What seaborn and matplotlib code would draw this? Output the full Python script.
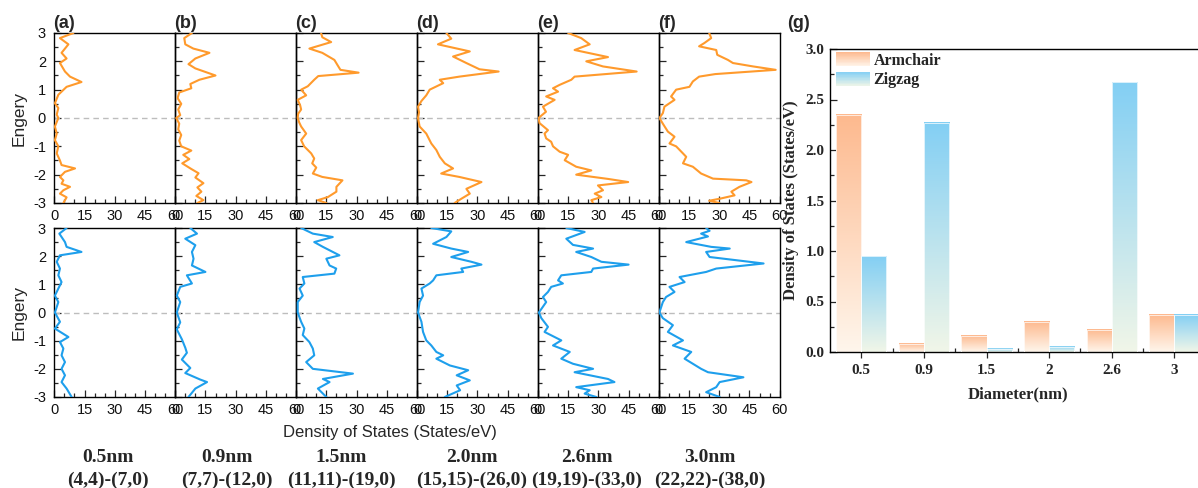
import numpy as np
import pandas as pd
import matplotlib
matplotlib.use("Agg")
import matplotlib.pyplot as plt
import seaborn as sns
from matplotlib.colors import LinearSegmentedColormap, to_rgb
from matplotlib.legend_handler import HandlerBase
from matplotlib.patches import Patch, Rectangle
from matplotlib.ticker import FixedLocator, MultipleLocator

# ---- DOS curves, armchair tubes (top row) ----
arm_05_E = [3.0, 2.82, 2.6, 2.3, 2.1, 1.94, 1.64, 1.46, 1.27, 1.1, 0.82, 0.52, 0.35, 0.12, 0.0, -0.3,
            -0.55, -0.78, -1.0, -1.25, -1.5, -1.66, -1.78, -1.9, -2.08, -2.2, -2.32, -2.43, -2.55, -2.67, -2.8, -3.0]
arm_05_dos = [9.5, 2.8, 7.0, 3.6, 6.1, 2.8, 5.3, 7.8, 13.5, 6.1, 2.0, 0.3, 2.0, 1.2, 2.0, 0.3,
              1.2, 0.3, 2.0, 1.2, 2.8, 3.6, 10.3, 5.3, 2.8, 4.5, 3.6, 7.8, 4.5, 2.8, 6.1, 4.5]

arm_09_E = [3.0, 2.82, 2.6, 2.45, 2.3, 2.1, 1.9, 1.75, 1.5, 1.35, 1.2, 1.05, 0.9, 0.7, 0.5, 0.3, 0.1, 0.0,
            -0.2, -0.4, -0.6, -0.8, -1.0, -1.15, -1.3, -1.45, -1.6, -1.8, -1.95, -2.1, -2.3, -2.45, -2.6, -2.75, -2.9, -3.0]
arm_09_dos = [8.3, 4.5, 5.0, 9.0, 17.0, 10.0, 6.6, 10.0, 20.0, 12.0, 7.5, 8.0, 2.0, 1.2, 3.0, 1.5, 2.5, 0.5,
              2.0, 1.5, 3.0, 2.0, 3.0, 8.0, 4.0, 7.0, 3.5, 8.0, 11.6, 10.0, 14.0, 11.0, 13.0, 10.5, 14.0, 11.0]

arm_15_E = [3.0, 2.85, 2.68, 2.45, 2.3, 2.05, 1.85, 1.7, 1.6, 1.48, 1.35, 1.12, 1.0, 0.8, 0.64, 0.45, 0.3, 0.15,
            0.0, -0.15, -0.3, -0.55, -0.78, -1.0, -1.25, -1.43, -1.6, -1.75, -1.96, -2.08, -2.2, -2.43, -2.6, -2.79, -2.9, -3.0]
arm_15_dos = [12.4, 13.0, 17.4, 6.6, 13.0, 19.0, 20.7, 22.0, 31.0, 11.0, 9.0, 5.8, 2.5, 5.0, 0.8, 2.0, 2.5, 1.0,
              0.8, 1.5, 2.5, 5.0, 2.5, 4.0, 7.5, 9.0, 8.0, 10.0, 8.3, 13.0, 23.0, 20.0, 20.0, 15.8, 10.8, 15.0]

arm_20_E = [3.0, 2.8, 2.6, 2.35, 2.17, 1.94, 1.72, 1.64, 1.46, 1.35, 1.23, 1.0, 0.8, 0.6, 0.4, 0.2, 0.0,
            -0.3, -0.55, -0.9, -1.13, -1.37, -1.6, -1.78, -1.96, -2.08, -2.26, -2.5, -2.67, -2.85, -3.0]
arm_20_dos = [14.6, 17.0, 10.4, 26.2, 17.9, 24.5, 31.0, 40.5, 21.0, 11.3, 13.0, 6.3, 4.6, 2.2, 0.5, 1.0, 0.5,
              1.3, 4.6, 7.1, 9.6, 11.3, 13.8, 17.9, 12.0, 21.0, 32.0, 24.5, 26.2, 22.0, 18.7]

arm_26_E = [3.0, 2.82, 2.6, 2.4, 2.15, 2.0, 1.82, 1.64, 1.46, 1.35, 1.17, 1.05, 0.93, 0.76, 0.64, 0.4, 0.22, 0.0, -0.18,
            -0.43, -0.55, -0.72, -0.84, -1.0, -1.19, -1.3, -1.49, -1.72, -1.85, -2.0, -2.15, -2.26, -2.38, -2.55, -2.67,
            -2.79, -2.9, -3.0]
arm_26_dos = [15.0, 21.5, 25.7, 18.2, 34.8, 24.0, 32.3, 49.0, 18.2, 16.6, 10.8, 7.5, 10.0, 4.1, 8.3, 2.5, 4.0, 0.3, 0.8,
              5.0, 3.3, 4.1, 6.6, 7.5, 10.8, 15.0, 13.3, 19.0, 26.5, 19.0, 34.8, 44.8, 29.8, 32.3, 28.2,
              31.5, 26.5, 27.4]

arm_30_E = [3.0, 2.82, 2.65, 2.53, 2.4, 2.23, 2.05, 1.94, 1.82, 1.7, 1.55, 1.46, 1.29, 1.1, 1.0, 0.76, 0.64, 0.4, 0.17,
            0.0, -0.2, -0.48, -0.66, -0.9, -1.0, -1.25, -1.37, -1.6, -1.72, -1.96, -2.14, -2.2, -2.26, -2.43, -2.6,
            -2.73, -2.85, -2.92, -3.0]
arm_30_dos = [25.0, 26.0, 22.7, 20.0, 28.5, 29.0, 34.3, 36.8, 46.8, 58.0, 28.0, 20.0, 16.9, 15.2, 8.6, 6.1, 7.8, 2.8, 2.0,
              0.3, 2.0, 4.5, 7.8, 5.3, 8.6, 12.0, 13.6, 12.0, 16.9, 21.0, 26.9, 43.4, 46.0, 40.0, 36.0,
              37.6, 30.2, 25.0, 30.0]

# ---- DOS curves, zigzag tubes (bottom row) ----
zig_05_E = [3.0, 2.8, 2.5, 2.33, 2.15, 2.03, 1.8, 1.56, 1.32, 1.08, 0.85, 0.6, 0.37, 0.15, 0.0, -0.33, -0.57,
            -0.87, -1.05, -1.28, -1.52, -1.76, -2.0, -2.23, -2.47, -2.7, -3.0]
zig_05_dos = [6.1, 2.5, 5.3, 6.1, 13.5, 2.8, 1.2, 2.8, 2.0, 3.6, 2.0, 0.3, 2.0, 1.0, 0.3, 2.8, 0.3,
              7.0, 2.8, 4.5, 3.6, 5.3, 3.6, 5.3, 3.6, 6.1, 8.6]

zig_09_E = [3.0, 2.8, 2.62, 2.39, 2.15, 1.91, 1.67, 1.44, 1.32, 1.03, 0.91, 0.6, 0.37, 0.0, -0.35, -0.6, -0.95,
            -1.25, -1.43, -1.67, -1.97, -2.15, -2.38, -2.47, -2.7, -3.0]
zig_09_dos = [7.5, 10.8, 5.0, 10.0, 8.3, 9.1, 8.3, 15.0, 5.8, 8.3, 2.5, 0.8, 2.5, 0.8, 2.5, 0.8, 3.3,
              5.0, 5.8, 3.3, 7.5, 5.0, 12.4, 15.8, 10.0, 6.6]

zig_15_E = [3.0, 2.8, 2.68, 2.5, 2.33, 2.03, 1.91, 1.67, 1.56, 1.38, 1.26, 1.03, 0.85, 0.6, 0.37, 0.0, -0.33,
            -0.57, -0.8, -1.05, -1.28, -1.52, -1.76, -2.0, -2.17, -2.36, -2.47, -2.7, -3.0]
zig_15_dos = [2.5, 8.3, 18.2, 9.0, 13.3, 21.5, 15.0, 16.6, 19.9, 19.0, 3.3, 4.1, 1.7, 3.3, 0.8, 0.8, 2.5,
              4.1, 3.3, 6.6, 8.3, 9.0, 5.0, 8.3, 28.2, 13.3, 16.6, 10.8, 15.0]

zig_20_E = [3.0, 2.88, 2.68, 2.44, 2.27, 2.15, 1.97, 1.8, 1.7, 1.56, 1.44, 1.32, 1.14, 1.03, 0.85, 0.6, 0.37,
            0.0, -0.33, -0.69, -0.99, -1.17, -1.4, -1.52, -1.64, -1.88, -2.05, -2.23, -2.41, -2.59, -2.76, -3.0]
zig_20_dos = [7.1, 17.0, 14.6, 8.0, 17.0, 25.4, 17.0, 27.0, 32.0, 22.0, 22.9, 9.6, 8.0, 6.3, 2.2, 3.0, 1.3,
              0.5, 2.2, 3.0, 4.6, 7.1, 9.6, 13.0, 9.6, 16.3, 25.4, 19.7, 26.2, 19.7, 21.4, 13.8]

zig_26_E = [3.0, 2.86, 2.62, 2.4, 2.27, 2.15, 1.97, 1.8, 1.7, 1.56, 1.44, 1.32, 1.14, 1.03, 0.91, 0.73, 0.55,
            0.37, 0.0, -0.2, -0.51, -0.69, -0.99, -1.17, -1.4, -1.64, -1.82, -2.0, -2.12, -2.36, -2.47, -2.65,
            -2.76, -2.88, -3.0]
zig_26_dos = [14.1, 23.2, 14.1, 17.4, 27.4, 19.0, 26.5, 31.5, 45.0, 27.4, 26.5, 11.6, 10.0, 12.4, 6.6, 5.0, 2.5,
              4.1, 0.5, 1.7, 5.0, 3.3, 11.6, 7.5, 15.8, 11.6, 17.4, 27.4, 18.2, 34.8, 38.0, 19.0,
              25.7, 23.2, 29.0]

zig_30_E = [3.0, 2.9, 2.8, 2.7, 2.5, 2.33, 2.27, 2.15, 1.97, 1.8, 1.74, 1.56, 1.44, 1.26, 1.08, 0.91, 0.73,
            0.55, 0.37, 0.0, -0.2, -0.45, -0.69, -0.99, -1.17, -1.4, -1.64, -2.0, -2.12, -2.3, -2.47, -2.65,
            -2.83, -3.0]
zig_30_dos = [23.5, 25.2, 21.0, 24.4, 13.6, 26.0, 35.2, 23.5, 25.2, 45.0, 52.0, 28.5, 23.5, 10.3, 12.8, 5.3, 7.8,
              3.6, 2.0, 0.3, 2.0, 7.0, 4.5, 12.0, 7.0, 16.1, 12.8, 21.0, 24.4, 42.0, 30.2, 28.5,
              23.5, 30.2]

# ---- bar chart (g) ----
diameters = ["0.5", "0.9", "1.5", "2", "2.6", "3"]
armchair_fermi = [2.35, 0.08, 0.16, 0.30, 0.22, 0.37]
zigzag_fermi = [0.95, 2.27, 0.03, 0.05, 2.67, 0.37]

panel_tags = ["(a)", "(b)", "(c)", "(d)", "(e)", "(f)"]
size_labels = ["0.5nm", "0.9nm", "1.5nm", "2.0nm", "2.6nm", "3.0nm"]
tube_labels = ["(4,4)-(7,0)", "(7,7)-(12,0)", "(11,11)-(19,0)",
               "(15,15)-(26,0)", "(19,19)-(33,0)", "(22,22)-(38,0)"]
label_x_px = [108, 227, 341, 472, 587, 710]

ORANGE = "#FF9A2C"
BLUE = "#1E9FEC"
ARM_GRAD = ("#FFF6EC", "#FDB98E")   # bottom, top
ZIG_GRAD = ("#F1F6E8", "#83CFF4")

W, H = 1198, 488
sns.set_style("ticks")
plt.rcParams["font.family"] = ["Liberation Sans", "DejaVu Sans"]
plt.rcParams["axes.unicode_minus"] = False

fig = plt.figure(figsize=(W / 100, H / 100), dpi=100)


def px_axes(x0, y0, x1, y1):
    return fig.add_axes([x0 / W, 1 - y1 / H, (x1 - x0) / W, (y1 - y0) / H])


# DOS panels
arm_curves = [(arm_05_E, arm_05_dos), (arm_09_E, arm_09_dos), (arm_15_E, arm_15_dos),
              (arm_20_E, arm_20_dos), (arm_26_E, arm_26_dos), (arm_30_E, arm_30_dos)]
zig_curves = [(zig_05_E, zig_05_dos), (zig_09_E, zig_09_dos), (zig_15_E, zig_15_dos),
              (zig_20_E, zig_20_dos), (zig_26_E, zig_26_dos), (zig_30_E, zig_30_dos)]

col_w = 120.9
left0 = 54.3
rows = [(33, 203, arm_curves, ORANGE), (228, 397, zig_curves, BLUE)]
for top, bot, curves, color in rows:
    for i, (E, dos) in enumerate(curves):
        ax = px_axes(left0 + i * col_w, top, left0 + (i + 1) * col_w, bot)
        ax.axhline(0, color="#BDBDBD", lw=1.0, ls=(0, (4, 3)), zorder=1)
        sns.lineplot(x=dos, y=E, orient="y", sort=False, estimator=None,
                     color=color, lw=1.5, ax=ax, zorder=3,
                     solid_joinstyle="round", solid_capstyle="round")
        ax.set_xlim(0, 60)
        ax.set_ylim(-3, 3)
        ax.xaxis.set_major_locator(FixedLocator([0, 15, 30, 45, 60]))
        ax.xaxis.set_minor_locator(MultipleLocator(5))
        ax.yaxis.set_major_locator(MultipleLocator(1))
        ax.yaxis.set_minor_locator(MultipleLocator(0.5))
        ax.tick_params(which="both", direction="in", top=False, right=False,
                       labelsize=10.5, labelcolor="#111111", width=0.9)
        ax.tick_params(which="major", length=5)
        ax.tick_params(which="minor", length=3)
        ax.tick_params(axis="x", pad=4)
        ax.tick_params(axis="y", pad=6)
        if i > 0:
            ax.tick_params(labelleft=False)
        ax.set_xlabel("")
        ax.set_ylabel("")
        for sp in ax.spines.values():
            sp.set_linewidth(1.0)
            sp.set_color("black")
        ax.patch.set_alpha(0)

for i, tag in enumerate(panel_tags):
    fig.text((left0 + i * col_w - 1) / W, 1 - 24 / H, tag, ha="left", va="center",
             fontsize=13, fontweight="bold")

for yc in (118, 313):
    fig.text(19 / W, 1 - yc / H, "Engery", rotation=90, ha="center", va="center", fontsize=12.5)
fig.text(390 / W, 1 - 433 / H, "Density of States (States/eV)", ha="center", va="center", fontsize=12)

serif_bold = dict(family=["Liberation Serif", "DejaVu Serif"], weight="bold")
for xp, s, t in zip(label_x_px, size_labels, tube_labels):
    fig.text(xp / W, 1 - 457 / H, s, ha="center", va="center", fontsize=14, fontdict=serif_bold)
    fig.text(xp / W, 1 - 480 / H, t, ha="center", va="center", fontsize=14, fontdict=serif_bold)

# bar chart
bar_ax = px_axes(830, 49, 830 + 6 * 62.6, 352)
bar_df = pd.DataFrame({
    "Diameter": diameters * 2,
    "DOS": armchair_fermi + zigzag_fermi,
    "Type": ["Armchair"] * len(diameters) + ["Zigzag"] * len(diameters),
})
sns.barplot(data=bar_df, x="Diameter", y="DOS", hue="Type", width=0.8,
            palette=[ARM_GRAD[1], ZIG_GRAD[1]], legend=False, ax=bar_ax)

grad = np.linspace(0, 1, 256).reshape(-1, 1)
for container, (c_bot, c_top) in zip(bar_ax.containers, [ARM_GRAD, ZIG_GRAD]):
    cmap = LinearSegmentedColormap.from_list("g", [c_bot, c_top])
    for bar in container:
        x, w, h = bar.get_x(), bar.get_width(), bar.get_height()
        bar_ax.imshow(grad, cmap=cmap, origin="lower", aspect="auto",
                      extent=[x, x + w, 0, h], zorder=2, interpolation="bilinear")
        bar.set_facecolor("none")
        bar.set_edgecolor("white")
        bar.set_linewidth(0.5)
        bar.set_zorder(3)

bar_ax.set_xlim(-0.5, 5.5)
bar_ax.set_ylim(0, 3)
bar_ax.yaxis.set_major_locator(MultipleLocator(0.5))
bar_ax.yaxis.set_minor_locator(MultipleLocator(0.25))
bar_ax.yaxis.set_major_formatter(matplotlib.ticker.FormatStrFormatter("%.1f"))
bar_ax.xaxis.set_minor_locator(FixedLocator([0.5, 1.5, 2.5, 3.5, 4.5]))
bar_ax.tick_params(axis="y", which="both", direction="in", width=0.9)
bar_ax.tick_params(axis="y", which="major", length=5, pad=4)
bar_ax.tick_params(axis="y", which="minor", length=3)
bar_ax.tick_params(axis="x", which="major", direction="out", length=4, width=0.9, pad=5)
bar_ax.tick_params(axis="x", which="minor", direction="in", length=3, width=0.9)
for lab in bar_ax.get_xticklabels() + bar_ax.get_yticklabels():
    lab.set_fontfamily(["Liberation Serif", "DejaVu Serif"])
    lab.set_fontweight("bold")
    lab.set_fontsize(11)
for sp in bar_ax.spines.values():
    sp.set_linewidth(1.0)
    sp.set_color("black")

bar_ax.set_xlabel("Diameter(nm)", fontsize=12, fontdict=serif_bold)
bar_ax.set_ylabel("Density of States (States/eV)", fontsize=12, fontdict=serif_bold)
bar_ax.xaxis.set_label_coords(0.5, -0.112)
bar_ax.yaxis.set_label_coords(-0.0825, 0.5)


class GradientHandler(HandlerBase):
    def __init__(self, bottom, top, n=24):
        super().__init__()
        self.bottom = np.array(to_rgb(bottom))
        self.top = np.array(to_rgb(top))
        self.n = n

    def create_artists(self, legend, orig_handle, xdescent, ydescent, width, height, fontsize, trans):
        arts = []
        for k in range(self.n):
            c = self.bottom + (self.top - self.bottom) * (k + 0.5) / self.n
            arts.append(Rectangle((-xdescent, -ydescent + height * k / self.n), width,
                                  height / self.n * 1.05, facecolor=c, edgecolor="none",
                                  transform=trans))
        return arts


h_arm = Patch(label="Armchair")
h_zig = Patch(label="Zigzag")
bar_ax.legend(handles=[h_arm, h_zig],
              handler_map={h_arm: GradientHandler(*ARM_GRAD), h_zig: GradientHandler(*ZIG_GRAD)},
              loc="upper left", bbox_to_anchor=(6 / 375.6, 1 - 3 / 303), frameon=False,
              borderpad=0, borderaxespad=0, handlelength=2.1, handleheight=1.0,
              handletextpad=0.25, labelspacing=0.2,
              prop=dict(family=["Liberation Serif", "DejaVu Serif"], weight="bold", size=11.5))

fig.text(787 / W, 1 - 23 / H, "(g)", ha="left", va="center", fontsize=13, fontweight="bold")

fig.savefig("out.png", dpi=100)
